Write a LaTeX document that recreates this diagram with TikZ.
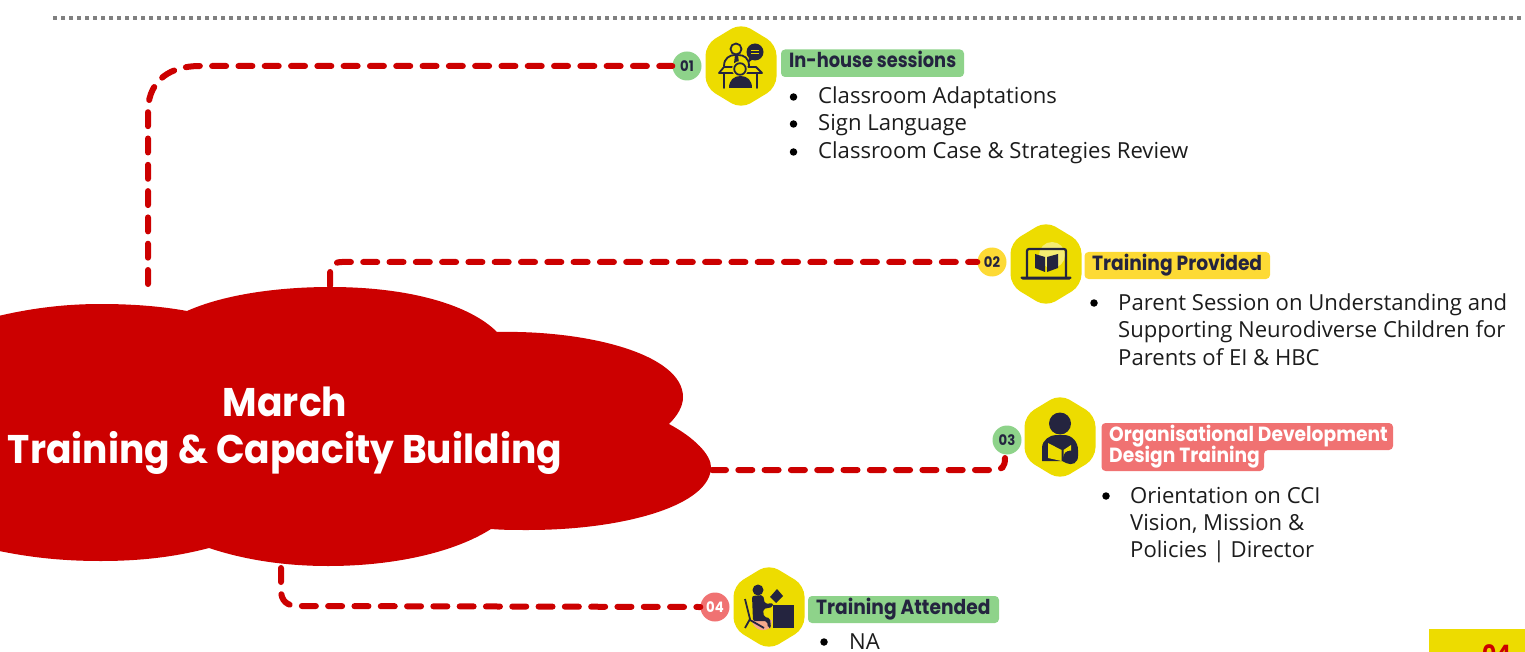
\documentclass[tikz,border=0pt]{standalone}
\usepackage{graphicx}
\usepackage{fontspec}
\setmainfont{Open Sans}
\newfontfamily\headfont{Poppins Bold}[FakeStretch=0.91]
\newfontfamily\titlefont{Poppins Bold}[FakeStretch=0.94]
\definecolor{cred}{HTML}{CC0000}
\definecolor{hexy}{HTML}{EDDC00}
\definecolor{ink}{HTML}{24243F}
\definecolor{pgreen}{HTML}{8ED38A}
\definecolor{pyellow}{HTML}{FDDA35}
\definecolor{pcoral}{HTML}{F07272}
\definecolor{bodyink}{HTML}{1C1C1C}
\definecolor{salmon}{HTML}{F5A98C}
\tikzset{
  link/.style={draw=cred,line width=6pt,line cap=round,dash pattern=on 14pt off 12.3pt},
  badge/.style={circle,minimum size=29pt,inner sep=0pt,font=\headfont\fontsize{14.5}{14.5}\selectfont,text=ink},
  pill/.style={fill=#1,rounded corners=4pt},
  headtext/.style={anchor=base west,inner sep=0pt,font=\headfont\fontsize{20.5}{20.5}\selectfont,text=ink},
  item/.style={anchor=base west,inner sep=0pt,font=\fontsize{22.1}{22.1}\selectfont,text=bodyink},
  dot/.style={circle,fill=black,minimum size=7.5pt,inner sep=0pt},
  iconline/.style={draw=ink,line width=1.8pt,line cap=round,line join=round},
  hexshape/.style={fill=hexy,rounded corners=11pt}
}
\newcommand{\hexagon}[2]{\path[hexshape] (#1,#2) ++(0,-43) -- ++(35.5,21.5) -- ++(0,43) -- ++(-35.5,21.5) -- ++(-35.5,-21.5) -- ++(0,-43) -- cycle;}
\begin{document}
\begin{tikzpicture}[x=1pt,y=-1pt]
\useasboundingbox (0,0) rectangle (1525,652);
\clip (0,0) rectangle (1525,652);
% top rule
\draw[draw=gray,line width=4pt,dash pattern=on 4pt off 4pt] (53,18.5) -- (1525,18.5);
% cloud
\fill[cred] (-10,318) .. controls (30,308) and (65,304) .. (101,304) .. controls (130,304) and (160,306) .. (187,311)
 .. controls (225,294) and (280,287) .. (330,287) .. controls (410,287) and (470,305) .. (497,332)
 .. controls (590,330) and (683,355) .. (683,397) .. controls (683,407) and (677,416) .. (669,424)
 .. controls (695,438) and (711,455) .. (711,467) .. controls (711,505) and (625,530) .. (528,530) .. controls (515,530) and (503,530) .. (491,529)
 .. controls (455,552) and (395,566) .. (328,566) .. controls (285,566) and (245,560) .. (209,548)
 .. controls (175,557) and (140,561) .. (101,561) .. controls (65,561) and (30,558) .. (-10,549) -- cycle;
\node[font=\titlefont\fontsize{40}{47}\selectfont,text=white,align=center,inner sep=0pt] (title) at (285,431) {March\\Training \& Capacity Building};
% anchors on the cloud
\coordinate (c1) at (148,284);
\coordinate (c2) at (330,286);
\coordinate (c3) at (712,470);
\coordinate (c4) at (281,568);
% badges
\node[badge,fill=pgreen] (b1) at (687,66) {01};
\node[badge,fill=pyellow] (b2) at (992,262) {02};
\node[badge,fill=pgreen] (b3) at (1007,440) {03};
\node[badge,fill=pcoral,text=white] (b4) at (715,607) {04};
% connectors
\draw[link] (c1) -- (148,108) .. controls (150,80) and (170,66) .. (200,66) -- (b1.west);
\draw[link] (c2) -- (330,274) .. controls (330,266) and (334,262) .. (342,262) -- (b2.west);
\draw[link] (c3) -- (994,470) .. controls (1002,470) and (1005,467) .. (1005,458);
\draw[link] (c4) -- (281,590) .. controls (281,601) and (287,606) .. (298,606) -- (b4.west);
% hexagons
\hexagon{741}{66}
\hexagon{1046}{264}
\hexagon{1060}{437}
\hexagon{769}{607}
% icon 1
\draw[iconline] (736,49) circle (5.5pt);
\draw[iconline] (724,66) .. controls (724,58) and (730,55) .. (735,55) -- (738,55) .. controls (744,55) and (749,58) .. (749,66);
\fill[ink] (735,55) -- (738,55) -- (739,63) -- (736.5,66) -- (734,63) -- cycle;
\fill[ink] (755,52) circle (8.5pt);
\fill[ink] (749,58) -- (748,63) -- (753,59) -- cycle;
\draw[hexy,line width=1pt] (751,50.5) -- (759,50.5) (751,53.5) -- (759,53.5);
\draw[iconline] (719,73) -- (724,67) -- (756,67) -- (762,73) -- cycle;
\draw[iconline] (724,73) -- (724,88) (757,73) -- (757,88);
\fill[hexy] (740,69) circle (8pt);
\draw[iconline] (740,69) circle (5.8pt);
\fill[ink] (729,88) .. controls (729,80) and (734,76) .. (740.5,76) .. controls (747,76) and (752,80) .. (752,88) -- cycle;
% icon 2
\fill[hexy!55!white] (1052,255) circle (13pt);
\draw[draw=ink,line width=2.2pt,rounded corners=2pt] (1027,278) -- (1027,249) -- (1066,249) -- (1066,278);
\fill[ink,rounded corners=1.5pt] (1020,276.5) -- (1072,276.5) -- (1071,279.5) -- (1021,279.5) -- cycle;
\fill[ink] (1035,254) -- (1045,257) -- (1045,272) -- (1035,268) -- cycle;
\fill[ink] (1047,257) -- (1058,254) -- (1058,268) -- (1047,272) -- cycle;
% icon 3
\fill[ink] (1060,423.5) circle (11pt);
\fill[ink] (1042,461) -- (1042,448) .. controls (1042,440) and (1050,435) .. (1056,435) -- (1064,435) .. controls (1072,435) and (1078,442) .. (1078,450) -- (1078,456) .. controls (1078,463) and (1072,466) .. (1066,463) -- (1062,461) -- cycle;
\fill[hexy] (1048,443) -- (1061.5,450) -- (1061.5,461) -- (1048,458) -- cycle;
\fill[hexy] (1063.5,450) -- (1071,445) -- (1071,450.5) .. controls (1066,450.5) and (1063.5,453) .. (1063.5,457) -- cycle;
% icon 4
\fill[ink] (758,590) circle (5.5pt);
\fill[salmon] (752,620) -- (772,620) -- (771,627) .. controls (764,633) and (755,630) .. (752,622) -- cycle;
\fill[ink,rounded corners=2pt] (752,596) -- (763,595) -- (765,604) -- (773,603) -- (773,607) -- (763,609) -- (764,617) -- (770,618) -- (771,628) -- (768,628) -- (767,621) -- (753,621) -- cycle;
\draw[draw=ink,line width=1.8pt] (745,599) -- (750,619) -- (745,628) (750,620) -- (764,628);
\fill[ink] (773,605) rectangle (794,628);
\fill[ink] (777,589) -- (783,596) -- (776,603) -- (770,597) -- cycle;
% pills
\path[pill=pgreen] (781,49.5) rectangle (964,77);
\path[pill=pyellow] (1084.5,252) rectangle (1270,279);
\path[pill=pcoral] (1101.5,423) -- (1393,423) -- (1393,450) -- (1264,450) -- (1264,471) -- (1101.5,471) -- cycle;
\path[pill=pgreen] (808,596) rectangle (999,623);
% headings
\node[headtext] (h1) at (789,67.5) {\scalebox{0.955}[1]{In-house sessions}};
\node[headtext] (h2) at (1092,270.5) {Training Provided};
\node[headtext,text=white] (h3a) at (1109,441) {Organisational Development};
\node[headtext,text=white] (h3b) at (1109,462) {Design Training};
\node[headtext] (h4) at (816,614) {Training Attended};
% list 1
\node[dot] (d11) at (793.5,97) {};
\node[dot] (d12) at (793.5,124) {};
\node[dot] (d13) at (793.5,152) {};
\node[item] (t11) at (818,104) {Classroom Adaptations};
\node[item] (t12) at (818,131) {Sign Language};
\node[item] (t13) at (818,159) {Classroom Case \& Strategies Review};
% list 2
\node[dot] (d21) at (1094,303) {};
\node[item] (t21) at (1118,310) {Parent Session on Understanding and};
\node[item] (t22) at (1118,337) {Supporting Neurodiverse Children for};
\node[item] (t23) at (1118,365) {Parents of EI \& HBC};
% list 3
\node[dot] (d31) at (1106,496) {};
\node[item] (t31) at (1130,503) {Orientation on CCI};
\node[item] (t32) at (1130,530) {Vision, Mission \&};
\node[item] (t33) at (1130,557) {Policies | Director};
% list 4
\node[dot] (d41) at (824,642) {};
\node[item] (t41) at (849,649) {NA};
% page tab
\fill[hexy] (1429,629) rectangle (1525,652);
\node[font=\headfont\fontsize{24}{24}\selectfont,text=cred,inner sep=0pt,anchor=base] (pg) at (1496.5,662) {04};
\end{tikzpicture}
\end{document}
